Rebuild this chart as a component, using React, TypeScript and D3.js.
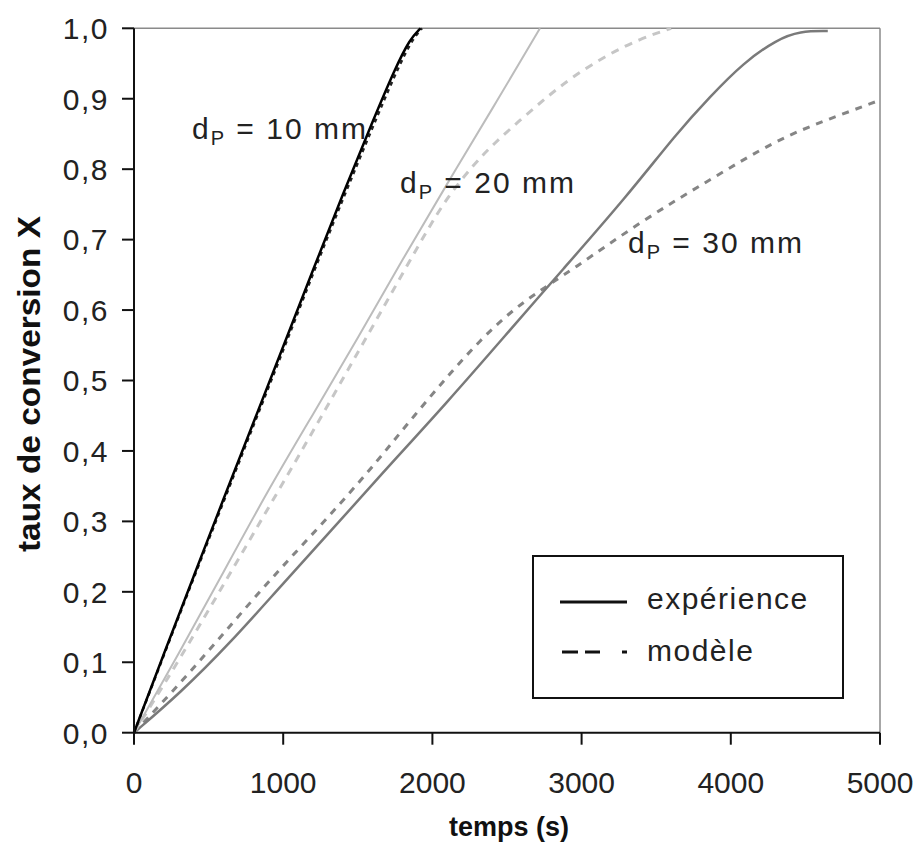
import React from "react";
import * as d3 from "d3";

// ---- data ----
const xTicks = [0, 1000, 2000, 3000, 4000, 5000];
const yTicks = [0, 0.1, 0.2, 0.3, 0.4, 0.5, 0.6, 0.7, 0.8, 0.9, 1.0];

const t10exp = [0, 200, 400, 600, 800, 1000, 1200, 1400, 1600, 1750, 1850, 1920];
const x10exp = [0, 0.112, 0.222, 0.332, 0.44, 0.548, 0.657, 0.765, 0.868, 0.943, 0.985, 1.0];
const t10mod = [0, 200, 400, 600, 800, 1000, 1200, 1400, 1600, 1750, 1860, 1930];
const x10mod = [0, 0.11, 0.22, 0.328, 0.436, 0.543, 0.652, 0.758, 0.86, 0.935, 0.983, 1.0];

const t20exp = [0, 300, 600, 900, 1200, 1500, 1800, 2100, 2400, 2721];
const x20exp = [0, 0.112, 0.228, 0.345, 0.452, 0.56, 0.672, 0.78, 0.885, 1.0];
const t20mod = [0, 200, 420, 710, 1000, 1300, 1500, 1700, 1960, 2100, 2270, 2410, 2590, 2770, 2945, 3170, 3390, 3600];
const x20mod = [0, 0.068, 0.145, 0.25, 0.355, 0.465, 0.54, 0.614, 0.712, 0.76, 0.805, 0.836, 0.87, 0.903, 0.932, 0.962, 0.985, 1.0];

const t30exp = [0, 308, 643, 979, 1314, 1649, 2096, 2542, 2855, 3302, 3637, 3861, 4084, 4308, 4464, 4650];
const x30exp = [0, 0.056, 0.127, 0.207, 0.285, 0.365, 0.468, 0.577, 0.653, 0.761, 0.851, 0.903, 0.951, 0.984, 0.996, 0.996];
const t30mod = [0, 331, 621, 911, 1224, 1537, 1716, 1917, 2118, 2319, 2520, 2721, 2922, 3413, 3861, 4308, 4643, 5000];
const x30mod = [0, 0.075, 0.146, 0.217, 0.288, 0.362, 0.408, 0.46, 0.51, 0.557, 0.597, 0.628, 0.655, 0.728, 0.785, 0.842, 0.87, 0.898];

const seriesNames = ["10", "20", "30"];
const legendLabels = ["expérience", "modèle"];

const W = 920;
const H = 851;
const M = { left: 134, right: 880, top: 28.3, bottom: 732.7 };
const FONT = "'Liberation Sans', Arial, sans-serif";

export default function App() {
  const x = d3.scaleLinear().domain([0, 5000]).range([M.left, M.right]);
  const y = d3.scaleLinear().domain([0, 1]).range([M.bottom, M.top]);
  const mk = (ts: number[], xs: number[]) =>
    d3
      .line<number>()
      .x((_, i) => x(ts[i]))
      .y((v) => y(v))
      .curve(d3.curveBasis)(xs) as string;

  const curves = [
    { d: mk(t30mod, x30mod), stroke: "#858585", w: 3, dash: "7,7" },
    { d: mk(t30exp, x30exp), stroke: "#7a7a7a", w: 2.5, dash: undefined },
    { d: mk(t20mod, x20mod), stroke: "#c6c6c6", w: 3, dash: "8,7" },
    { d: mk(t20exp, x20exp), stroke: "#bcbcbc", w: 2, dash: undefined },
    { d: mk(t10mod, x10mod), stroke: "#222", w: 2.5, dash: "4,4" },
    { d: mk(t10exp, x10exp), stroke: "#000", w: 2.5, dash: undefined },
  ];

  const labelPos = [
    { x: 192, y: 139 },
    { x: 400, y: 193 },
    { x: 628, y: 253 },
  ];

  return (
    <svg
      width={W}
      height={H}
      style={{ position: "absolute", left: 0, top: 0, background: "#fff" }}
      fontFamily={FONT}
    >
      <rect x={0} y={0} width={W} height={H} fill="#fff" />
      {/* frame top & right */}
      <line x1={M.left} x2={M.right} y1={M.top} y2={M.top} stroke="#8a8a8a" strokeWidth={1.5} />
      <line x1={M.right} x2={M.right} y1={M.top} y2={M.bottom} stroke="#8a8a8a" strokeWidth={1.5} />

      {/* curves */}
      <g fill="none" strokeLinecap="butt" strokeLinejoin="round">
        {curves.map((c, i) => (
          <path key={i} d={c.d} stroke={c.stroke} strokeWidth={c.w} strokeDasharray={c.dash} />
        ))}
      </g>

      {/* axes */}
      <line x1={M.left} x2={M.left} y1={M.top} y2={M.bottom} stroke="#111" strokeWidth={2} />
      <line x1={M.left} x2={M.right} y1={M.bottom} y2={M.bottom} stroke="#111" strokeWidth={2} />
      {yTicks.map((v) => (
        <g key={"y" + v}>
          <line x1={M.left - 12} x2={M.left} y1={y(v)} y2={y(v)} stroke="#111" strokeWidth={2} />
          <text x={109} y={y(v)} dy="0.36em" textAnchor="end" fontSize={30} letterSpacing={1.5} fill="#222">
            {v.toFixed(1).replace(".", ",")}
          </text>
        </g>
      ))}
      {xTicks.map((v) => (
        <g key={"x" + v}>
          <line x1={x(v)} x2={x(v)} y1={M.bottom} y2={M.bottom + 12} stroke="#111" strokeWidth={2} />
          <text x={x(v)} y={793} textAnchor="middle" fontSize={30} fill="#222">
            {v}
          </text>
        </g>
      ))}
      <text x={(M.left + M.right) / 2 + 2} y={836} textAnchor="middle" fontSize={27} fontWeight="bold" fill="#111">
        temps (s)
      </text>
      <text
        transform={`translate(40,384) rotate(-90)`}
        textAnchor="middle"
        fontSize={31}
        fontWeight="bold"
        fill="#111"
        textLength={336}
        lengthAdjust="spacingAndGlyphs"
      >
        taux de conversion X
      </text>

      {/* curve labels */}
      {seriesNames.map((n, i) => (
        <text key={n} x={labelPos[i].x} y={labelPos[i].y} fontSize={30} letterSpacing={2} fill="#222">
          d
          <tspan fontSize={20} dy={6}>P</tspan>
          <tspan dy={-6}>{` = ${n} mm`}</tspan>
        </text>
      ))}

      {/* legend */}
      <rect x={533} y={556} width={310} height={142} fill="#fff" stroke="#111" strokeWidth={2} />
      <line x1={560} x2={627} y1={602} y2={602} stroke="#111" strokeWidth={3} />
      <line x1={562} x2={627} y1={652} y2={652} stroke="#111" strokeWidth={3} strokeDasharray="16,7,15,22,5" />
      <text x={647} y={609} fontSize={30} letterSpacing={1.5} fill="#222">{legendLabels[0]}</text>
      <text x={647} y={661} fontSize={30} letterSpacing={1.5} fill="#222">{legendLabels[1]}</text>
    </svg>
  );
}
